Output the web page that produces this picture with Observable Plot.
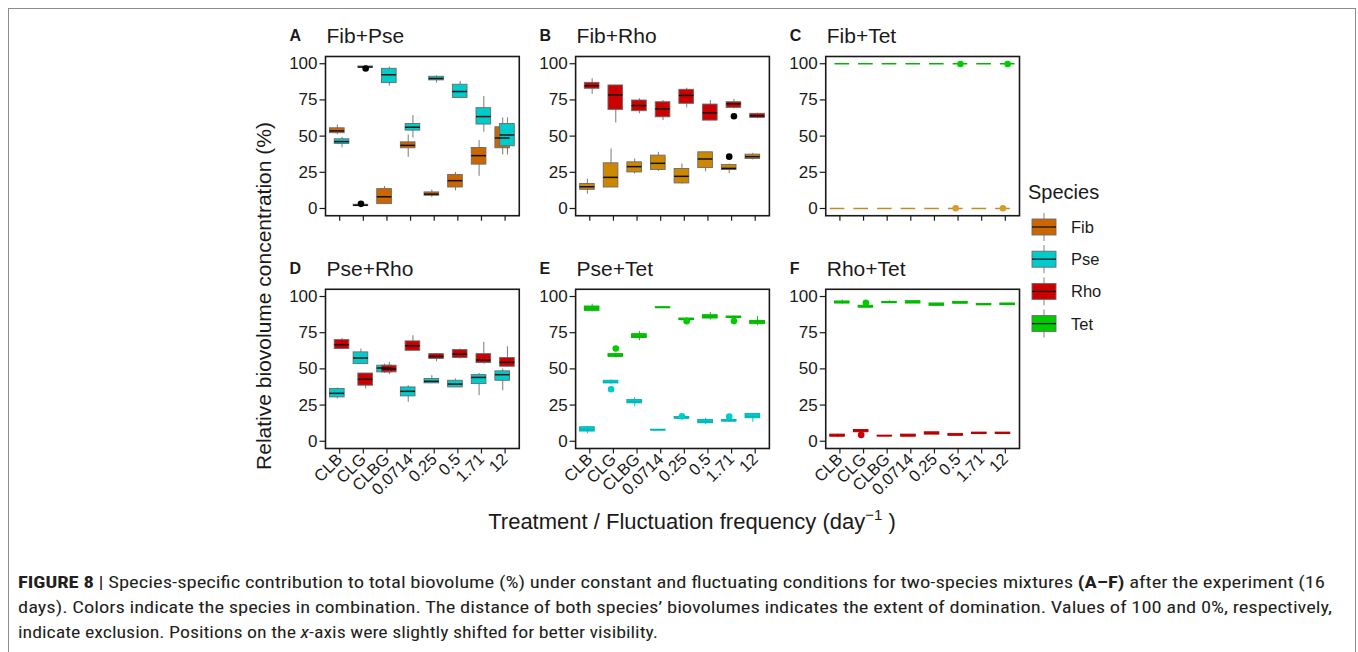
<!DOCTYPE html>
<html><head><meta charset="utf-8">
<script src="https://cdn.jsdelivr.net/npm/d3@7"></script>
<script src="https://cdn.jsdelivr.net/npm/@observablehq/plot@0.6"></script>
<style>
html,body{margin:0;padding:0;background:#fff;}
#fig{position:relative;width:1358px;height:652px;overflow:hidden;font-family:"Liberation Sans",Arial,Helvetica,sans-serif;color:#1a1a1a;}
#border{position:absolute;left:8px;top:8px;width:1348px;height:720px;border:1.5px solid #8c8c8c;box-sizing:border-box;}
#chart{position:absolute;left:0;top:0;}
#ylab{position:absolute;left:264px;top:296px;transform:translate(-50%,-50%) rotate(-90deg);white-space:nowrap;font-size:21px;}
#xlab{position:absolute;left:692px;top:522px;transform:translate(-50%,-50%);white-space:nowrap;font-size:22px;}
#xlab sup{font-size:15px;position:relative;top:-9px;vertical-align:baseline;}
#overlay{position:absolute;left:0;top:0;}
</style></head><body>
<div id="fig">
  <div id="border"></div>
  <div id="chart"></div>
  <div id="ylab">Relative biovolume concentration (%)</div>
  <div id="xlab">Treatment / Fluctuation frequency (day<sup>−1</sup> )</div>
  <svg id="overlay" width="1358" height="652"></svg>
</div>
<script>
// ---------------- data ----------------
const treatments = ["CLB","CLG","CLBG","0.0714","0.25","0.5","1.71","12"];
const speciesNames = ["Fib","Pse","Rho","Tet"];
const speciesColors = ["#CC6600","#00CCCC","#CC0000","#00CC00"];
const panelLetters = ["A","B","C","D","E","F"];
const panelTitles = ["Fib+Pse","Fib+Rho","Fib+Tet","Pse+Rho","Pse+Tet","Rho+Tet"];
const panelPairs = [["Fib","Pse"],["Fib","Rho"],["Fib","Tet"],["Pse","Rho"],["Pse","Tet"],["Rho","Tet"]];

// box statistics per treatment: [lower whisker, Q1, median, Q3, upper whisker]
const A_Fib = [[51,52,53.6,55.4,57.7],[1.8,1.9,2.2,2.6,2.8],[3,3,8.1,13.4,15.2],[35.3,41.6,43.6,45.7,50.8],[7.6,8.8,9.9,11.1,12.7],[12.2,14.5,19.2,23.1,24.9],[22.2,30.3,36.5,41.8,46.9],[37,41.6,48.7,56.1,62.6]];
const A_Pse = [[42,44.6,46.2,47.8,49.2],[97.2,97.4,97.7,98.1,98.3],[84.5,86.6,92.4,96.5,97.7],[48.7,53.8,56.1,58.4,64.2],[86.6,88.5,89.8,91,91.7],[76.4,76.4,80.8,85.5,87.8],[52.7,58,63.5,69.3,77.4],[37,43,50.8,58.4,62.6]];
const B_Fib = [[9.9,12.9,15,16.9,20.3],[14.5,14.5,21.5,31.2,41.1],[23.8,24.9,28.9,31.9,34.2],[25.6,26.6,31.2,36.5,38.8],[16.9,17.3,22.2,27.3,30.7],[25.4,27.9,34.2,38.8,38.8],[24.2,26.6,27.7,30,30.7],[33.5,34.2,35.8,37.2,38.1]];
const B_Rho = [[78.8,82.7,84.8,86.8,89.6],[59.1,68.1,78.5,85,85],[65.4,67.2,71.1,74.6,75.8],[60.7,63,68.8,73.4,74.6],[69.5,72.3,78.1,82,83.1],[60.7,60.7,66.1,71.8,74.6],[68.8,69.5,72.3,73.4,75.3],[61.9,62.6,64,65.4,65.8]];
const C_Fib = [[0,0,0,0,0],[0,0,0,0,0],[0,0,0,0,0],[0,0,0,0,0],[0,0,0,0,0],[0,0,0,0,0],[0,0,0,0,0],[0,0,0,0,0]];
const C_Tet = [[100,100,100,100,100],[100,100,100,100,100],[100,100,100,100,100],[100,100,100,100,100],[100,100,100,100,100],[100,100,100,100,100],[100,100,100,100,100],[100,100,100,100,100]];
const D_Pse = [[29.2,30.3,33.1,36.1,36.8],[53.3,53.3,57.5,61.4,63.7],[46.9,47.6,50.6,52.2,53.3],[26.9,31,34.5,37.2,38.4],[40,40,41.4,43,45.3],[37.2,37.2,39.5,41.8,43],[31.5,39.5,44.1,45.7,46.9],[34.9,41.8,46,48.3,49.9]];
const D_Rho = [[63.7,63.7,66.7,69.9,71],[36.1,38.4,42.8,46.8,46.8],[46,47.6,49.9,52.2,54.5],[62.5,62.5,66,69,72.9],[54.9,56.8,58.6,60.2,60.7],[56.8,57.5,60.2,63,63.7],[53.3,54,56.1,60.2,68.3],[51,51.5,54.5,57.5,65.3]];
const E_Pse = [[5.1,6.7,8,9.7,10.1],[39.5,40,40.7,41.8,42.3],[23.9,26.2,27.4,28.5,30.3],[7.4,7.6,7.8,8,8.2],[15.4,15.6,16.1,16.8,17],[11.3,12.4,13.6,14.7,15.9],[13.2,13.6,14.3,14.7,15.2],[13.1,15.9,17.2,18.9,19.3]];
const E_Tet = [[89.4,90.1,91.7,93.1,94.7],[57.5,58.4,59.1,60.2,60.7],[69.4,71.3,72.6,74,75.9],[92,92.2,92.4,92.6,93.1],[83.5,83.7,84.2,84.8,85.5],[83.7,84.8,86.2,87.1,89],[85,85.1,85.7,86.2,86.5],[79.8,80.9,82.8,83.2,86.2]];
const F_Rho = [[2.8,3.2,3.9,4.6,4.8],[6.2,6.2,7.4,7.8,7.8],[3.4,3.5,3.7,3.9,4.1],[3.2,3.2,3.9,4.6,4.6],[4.6,4.6,5.5,6.2,6.2],[3.9,3.9,4.4,5.1,5.1],[5.1,5.1,5.5,6,6],[5.1,5.1,5.5,6,6]];
const F_Tet = [[94.7,95.2,95.9,96.6,97.5],[92.4,92.4,92.9,93.6,93.8],[95.2,95.6,95.9,96.3,97],[95.2,95.2,95.9,96.8,96.8],[93.6,93.6,94.5,95.2,95.2],[95.2,95.2,95.6,96.3,96.3],[94,94,94.5,94.9,94.9],[94,94,94.7,95.2,95.2]];
const panelStats = [[A_Fib,A_Pse],[B_Fib,B_Rho],[C_Fib,C_Tet],[D_Pse,D_Rho],[E_Pse,E_Tet],[F_Rho,F_Tet]];

// outliers: [panel, species, treatment, value]
const outliers = [
  ["A","Fib","CLG",3.2],["A","Pse","CLG",96.7],
  ["B","Rho","1.71",63.7],["B","Fib","1.71",35.8],
  ["C","Fib","0.5",0.2],["C","Fib","12",0.2],["C","Tet","0.5",99.8],["C","Tet","12",99.8],
  ["E","Tet","CLG",64.1],["E","Pse","CLG",35.9],["E","Tet","0.25",82.9],["E","Pse","0.25",17.2],["E","Tet","1.71",83],["E","Pse","1.71",17],
  ["F","Tet","CLG",95.6],["F","Rho","CLG",4.4]
];

const caption1 = [["FIGURE 8","bold"],[" | Species-specific contribution to total biovolume (%) under constant and fluctuating conditions for two-species mixtures ",null],["(A–F)","bold"],[" after the experiment (16",null]];
const caption2 = [["days). Colors indicate the species in combination. The distance of both species’ biovolumes indicates the extent of domination. Values of 100 and 0%, respectively,",null]];
const caption3 = [["indicate exclusion. Positions on the ",null],["x","italic"],["-axis were slightly shifted for better visibility.",null]];

// ---------------- styles ----------------
const coloredPanels = ["C","E","F"];           // panels drawn with species-coloured outlines/points
const panelFibShade = {B: "#CC8800", C: "#D99A2B"}; // Fib shade seen in these panels
const dodge = 0.1, bw = 0.62;

// ---------------- build ----------------
const colorOf = (sp, panel) => (sp === "Fib" && panelFibShade[panel]) || speciesColors[speciesNames.indexOf(sp)];
const rows = [];
panelPairs.forEach((pair, p) => {
  pair.forEach((sp, k) => {
    panelStats[p][k].forEach((s, i) => rows.push({
      panel: panelLetters[p], col: p % 3, row: Math.floor(p / 3), sp,
      x: i + (k === 0 ? -dodge : dodge), lo: s[0], q1: s[1], med: s[2], q3: s[3], hi: s[4]
    }));
  });
});
const outRows = outliers.map(([pl, sp, tr, v]) => {
  const p = panelLetters.indexOf(pl);
  const k = panelPairs[p].indexOf(sp);
  return {panel: pl, col: p % 3, row: Math.floor(p / 3), sp,
    x: treatments.indexOf(tr) + (k === 0 ? -dodge : dodge), v};
});
const titleRows = panelLetters.map((l, p) => ({letter: l, title: panelTitles[p], col: p % 3, row: Math.floor(p / 3)}));
const colored = d => coloredPanels.includes(d.panel);

const whiskerStroke = d => colored(d) ? colorOf(d.sp, d.panel) : "#7a7a7a";
const boxStroke = d => colored(d) ? d3.color(colorOf(d.sp, d.panel)).darker(0.4).formatHex() : "#6a6a6a";
const medStroke = d => colored(d) ? d3.color(colorOf(d.sp, d.panel)).darker(0.3).formatHex() : "#111111";
const dotFill = d => colored(d) ? colorOf(d.sp, d.panel) : "#000000";

const idx = treatments.map((t, i) => i);

const chart = Plot.plot({
  width: 1358, height: 540,
  marginLeft: 325, marginRight: 339, marginTop: 56, marginBottom: 92,
  style: {fontFamily: '"Liberation Sans", Arial, Helvetica, sans-serif', color: "#1a1a1a", background: "transparent", overflow: "visible"},
  fx: {domain: [0, 1, 2], paddingInner: 0.2253, paddingOuter: 0, axis: null, round: false},
  fy: {domain: [0, 1], paddingInner: 0.316, paddingOuter: 0, axis: null, round: false},
  x: {domain: [-0.6, 7.6], axis: null},
  y: {domain: [-5, 105], axis: null},
  color: {type: "identity"},
  marks: [
    Plot.ruleX(rows, {fx: "col", fy: "row", x: "x", y1: "lo", y2: "hi", stroke: whiskerStroke, strokeWidth: 1}),
    Plot.rect(rows, {fx: "col", fy: "row", x1: d => d.x - bw / 2, x2: d => d.x + bw / 2, y1: "q1", y2: "q3",
      fill: d => colorOf(d.sp, d.panel), stroke: boxStroke, strokeWidth: 0.9}),
    Plot.ruleY(rows, {fx: "col", fy: "row", y: "med", x1: d => d.x - bw / 2, x2: d => d.x + bw / 2, stroke: medStroke, strokeWidth: 1.5}),
    Plot.dot(outRows, {fx: "col", fy: "row", x: "x", y: "v", r: 3.3, fill: dotFill, stroke: "none"}),
    Plot.frame({stroke: "#1a1a1a", strokeWidth: 1.6}),
    Plot.axisY([0, 25, 50, 75, 100], {facetAnchor: null, tickSize: 5.5, tickPadding: 2.5, fontSize: 17, label: null, strokeWidth: 1.2}),
    Plot.axisX(idx, {facetAnchor: null, tickSize: 5.5, fill: "none", label: null, strokeWidth: 1.2}),
    Plot.axisX(idx, {tickSize: 0, tickPadding: 8, tickRotate: -45, tickFormat: i => treatments[i], fontSize: 16.5, label: null}),
    Plot.text(titleRows, {fx: "col", fy: "row", text: "letter", frameAnchor: "top-left", textAnchor: "start", lineAnchor: "top",
      dx: -36, dy: -27, fontSize: 16, fontWeight: "bold"}),
    Plot.text(titleRows, {fx: "col", fy: "row", text: "title", frameAnchor: "top-left", textAnchor: "start", lineAnchor: "top",
      dx: 1, dy: -28, fontSize: 21})
  ]
});
document.getElementById("chart").appendChild(chart);

// ---------------- legend & caption ----------------
const ov = d3.select("#overlay");
const lg = ov.append("g").attr("font-family", '"Liberation Sans", Arial, Helvetica, sans-serif').attr("fill", "#1a1a1a");
lg.append("text").attr("x", 1028).attr("y", 198.5).attr("font-size", 20).text("Species");
speciesNames.forEach((sp, i) => {
  const cy = 227 + i * 32.2;
  const g = lg.append("g");
  g.append("line").attr("x1", 1044).attr("x2", 1044).attr("y1", cy - 14).attr("y2", cy + 14).attr("stroke", "#808080").attr("stroke-width", 1);
  g.append("rect").attr("x", 1032).attr("y", cy - 8).attr("width", 24).attr("height", 16)
    .attr("fill", speciesColors[i]).attr("stroke", "#6a6a6a").attr("stroke-width", 0.9);
  g.append("line").attr("x1", 1032).attr("x2", 1056).attr("y1", cy).attr("y2", cy).attr("stroke", "#111").attr("stroke-width", 1.3);
  g.append("text").attr("x", 1071).attr("y", cy).attr("dy", "0.36em").attr("font-size", 16.5).text(sp);
});

const capFont = '"Liberation Sans Narrow", "Roboto Condensed", "Arial Narrow", "Liberation Sans", sans-serif';
[[caption1, 587.5, 1307], [caption2, 612.5, 1314], [caption3, 637.5, 640]].forEach(([parts, y, len]) => {
  const t = ov.append("text").attr("x", 18).attr("y", y).attr("font-family", capFont).attr("font-size", 16)
    .attr("fill", "#231f20").attr("textLength", len).attr("lengthAdjust", "spacingAndGlyphs");
  parts.forEach(([s, st]) => {
    const ts = t.append("tspan").text(s);
    if (st === "bold") ts.attr("font-weight", "bold");
    if (st === "italic") ts.attr("font-style", "italic");
  });
});
</script>
</body></html>
